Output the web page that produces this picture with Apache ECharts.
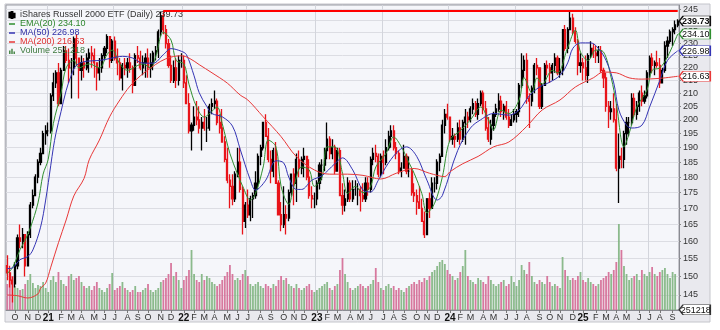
<!DOCTYPE html>
<html>
<head>
<meta charset="utf-8">
<script src="https://cdn.jsdelivr.net/npm/echarts@6/dist/echarts.min.js"></script>
<style>
  html, body { margin: 0; padding: 0; background: #ffffff; }
  #chart { width: 720px; height: 330px; }
</style>
</head>
<body>
<div id="chart"></div>
<script>
// Weekly bars for IWM, Sep 2020 - Sep 2025 (Friday of each week).
const firstWeek = [2020, 8, 11];
const firstOpen = 153;

const closes = [
  151,149,148,153,161,160,162,153,162,171,174,180,185,188,195,196,196,
  209,214,218,206,219,227,223,220,220,232,224,219,222,220,224,226,225,222,218,220,225,228,233,223,231,224,222,216,221,220,222,220,213,225,224,220,222,224,220,222,226,227,235,242,236,230,221,215,220,215,223,223,
  214,206,196,198,201,200,197,199,197,197,205,206,207,199,197,192,186,179,177,173,181,185,176,166,171,168,173,174,178,187,190,199,194,186,182,189,178,168,165,168,167,175,181,178,186,183,186,187,180,174,173,173,
  178,184,184,189,193,188,190,182,189,174,171,173,178,173,176,176,176,174,173,178,176,186,188,187,181,187,185,190,194,196,190,188,182,183,187,182,182,175,174,172,170,166,162,173,170,178,178,185,187,198,202,201,
  193,194,193,197,193,199,201,200,204,206,202,206,210,204,197,193,198,202,204,207,203,205,201,198,200,202,203,213,219,223,208,207,212,221,220,205,213,221,220,218,221,224,218,219,236,228,236,241,235,231,221,222,220,
  217,225,228,226,225,227,219,216,205,203,204,200,183,187,186,195,199,199,208,202,205,210,207,209,218,224,221,222,221,214,219,229,231,235,236,238,239.73
];

const highs = [
  156,153,150,154,162,165,164,162,163,172,176,181,186,190,196,198,199,
  210,218,219,222,220,229,229,228,224,233,234,224,225,224,226,228,229,228,222,224,226,229,234,233,232,233,228,224,222,224,224,226,221,226,229,227,225,226,228,226,227,229,236,244,244.46,238,232,225,223,224,225,226,
  225,217,210,199,205,207,205,201,204,201,206,208,211,208,202,204,194,190,181,181,182,190,190,177,172,176,174,175,182,188,191,199,202,197,189,190,192,179,172,177,171,176,181,183,188,189,187,190,187,186,177,175,
  179,185,186,190,199,194,193,191,190,190,178,176,180,179,179,179,178,177,178,180,180,187,190,191,188,188,189,193,196,198,198,192,189,185,191,188,187,183,178,176,177,173,169,173,175,180,180,186,188,200,204,206,
  201,197,195,199,200,200,204,203,205,208,207,208,211,211,207,201,200,203,206,210,209,206,207,204,202,204,204,214,226,225,226,210,213,222,224,220,214,222,223,222,222,226,225,224,236,238,237,243.7,243,237,232,226,224,
  225,226,231,230,229,229,229,220,218,207,207,210,206,195,190,196,201,201,210,210,207,211,213,211,219,225,226,223,227,224,220,231,233,236,237,240,240.5
];

const lows = [
  149,147,143,147,152,158,158,150,153,161,170,174,178,184,188,191,194,
  195,207,212,205,206,219,222,214,208,217,221,208,215,216,219,218,220,216,211,215,218,223,226,220,222,223,217,215,211,217,216,218,210,213,222,219,217,216,216,216,219,223,224,233,234,228,220,214,214,212,213,220,
  212,206,195,189,196,198,195,189,196,192,196,202,204,198,195,192,185,178,170,171,172,180,175,162,164,167,166,167,173,176,184,189,194,185,178,180,178,168,163,164,162,166,174,171,172,180,181,180,179,173,170,170,
  171,176,179,182,186,186,186,181,182,174,168,169,172,172,172,174,171,169,172,172,174,175,184,185,180,180,181,184,189,190,189,186,181,180,183,181,180,174,172,168,170,166,161,162,167,170,175,176,182,187,195,200,
  192,191,190,192,191,192,191,197,199,202,201,200,205,202,196,192,191,196,201,203,201,200,200,197,198,199,199,201,212,216,206,197,205,210,217,204,204,213,217,214,215,218,217,216,217,227,226,236,234,230,217,218,215,
  215,214,224,224,222,222,218,212,203,197,200,199,182,171.7,183,183,191,194,198,201,200,203,205,206,208,216,218,217,220,212,214,218,224,230,229,234,237
];

// Volume, millions of shares (last bar is the partial session)
const volumes = [
  26,30,34,24,22,20,21,26,30,36,27,22,25,24,28,22,18,
  30,34,28,38,30,26,24,34,36,30,32,34,28,24,
  22,24,20,24,28,22,20,18,22,26,37,20,22,24,28,
  22,20,18,20,24,18,18,20,22,26,20,18,20,22,28,
  30,32,36,47,34,38,30,22,
  30,34,40,60,36,30,28,36,30,34,32,28,26,24,26,30,34,38,45,36,30,32,
  30,36,40,34,26,24,26,28,24,22,26,24,22,26,24,30,34,30,32,26,24,22,26,22,20,22,24,26,20,18,
  20,22,24,26,28,22,20,24,26,40,52,36,28,22,20,22,24,26,24,22,
  24,26,30,42,28,22,20,24,26,22,24,20,22,20,18,22,24,26,28,26,30,28,32,30,34,38,40,44,48,50,46,40,
  36,34,30,32,38,44,60,34,30,28,26,32,30,28,26,34,30,26,24,26,28,30,24,26,34,28,24,30,
  45,40,36,48,34,28,26,30,28,26,34,28,24,26,24,22,53,40,34,30,32,30,34,38,
  30,28,32,28,26,24,26,30,32,34,38,36,40,48,86,60,44,36,30,32,34,36,30,40,36,34,38,43,36,34,38,40,42,36,32,38,36,0.251218
];

// Indicator readings: [week index, value]
const ema20 = [
  [0,150.9],[2,152.4],[5,157.6],[7,160.4],[9,164],[12,171.7],[14,181],[16,186],[18,198.6],[21,210],[23,220],[26,223],[28,220],
  [32,221.6],[36,220],[39,225.4],[41,227.3],[44,221.6],[47,219],[51,221],[53,221.6],[56,220],[58,224.5],[61,234.8],[64,231.5],
  [66,223],[69,221.6],[71,213.5],[74,204.7],[77,201],[79,202.3],[82,204.7],[84,198.6],[87,188],[90,181],[92,177],[95,172.6],
  [97,174.7],[100,183.4],[102,192.7],[105,190.3],[107,177],[110,171.3],[112,177],[115,183.4],[118,182.4],[120,177],[123,180],
  [125,190.3],[128,190.3],[131,181.3],[133,174.7],[136,177],[139,175],[142,177],[144,183.4],[148,188],[151,193.8],[154,190.3],
  [157,184.8],[159,181.3],[162,174.7],[164,168.6],[167,171.6],[170,180],[173,192.7],[177,196],[181,200],[185,204.7],[188,200],
  [190,196.3],[193,203.6],[196,202.3],[200,207.4],[202,216],[205,210],[207,216],[209,213.5],[213,219],[215,218],[219,228.3],
  [222,235.8],[224,226.5],[227,223],[230,227.3],[233,226.5],[236,216],[238,206],[241,190.3],[243,195],[246,204.7],[250,211.2],
  [252,219],[255,220],[258,224.5],[262,234.10]
];
const ma50 = [
  [0,152.2],[2,152.4],[5,154.7],[8,155.6],[10,157.5],[13,164.2],[15,172.6],[17,184],[18,190],[19,195],[21,203],[23,211],[25,217],
  [27,221],[31,222.7],[36,223],[41,224],[45,224.7],[49,224],[53,221.9],[57,221.9],[61,225.4],[64,227.9],[68,226.8],[70,225.4],
  [73,216.8],[75,210.2],[78,204.9],[80,202.3],[84,201.1],[88,197.7],[91,189.5],[95,179],[97,175.8],[101,179],[105,185.5],
  [108,184.8],[110,180],[113,176],[115,176],[119,179],[123,180.5],[128,184.5],[131,186.5],[135,182.4],[139,175.8],[142,175.2],
  [145,179],[149,184.8],[153,189],[156,190.3],[160,187],[164,179],[168,172.6],[170,174],[176,189],[181,197],[185,200],
  [190,202.3],[196,201.7],[200,203.6],[204,209],[208,212.4],[212,214.3],[216,217],[219,222],[221,228],[224,230.3],[228,230.3],
  [231,228],[234,223],[237,214],[239,203.6],[242,198],[244,197],[248,198],[251,204.7],[255,215],[258,223],[262,226.98]
];
const ma200 = [
  [0,145],[4,144.8],[8,144.2],[12,145.3],[13,146.8],[15,148.2],[17,152.6],[20,159.6],[23,166.4],[26,173.9],[30,179.6],
  [32,185.8],[36,192.7],[40,201.1],[44,207.4],[48,212.8],[52,216.8],[56,219.9],[60,222.7],[64,224.4],[68,224.9],[71,224],
  [75,221.3],[80,218],[86,213.9],[91,209.3],[94,207.4],[100,201.1],[107,193.9],[113,186.9],[120,182.4],[126,181],[133,181],
  [139,180.6],[146,179.4],[152,181.3],[159,182.9],[165,181.3],[171,180.2],[173,181.8],[178,184.5],[184,187],[190,190.3],
  [196,192],[203,197.6],[209,203.6],[216,207.4],[222,212.4],[229,216],[233,218.3],[238,218],[243,216],[248,215.5],
  [255,215.8],[262,216.63]
];

const priceTicks = [145,150,155,160,165,170,175,180,185,190,195,200,205,210,215,220,225,230,235,240,245];
const monthInitials = ['J','F','M','A','M','J','J','A','S','O','N','D'];

const priceName = 'iShares Russell 2000 ETF (Daily)';
const lastPrice = 239.73, lastEma = 234.10, lastMa50 = 226.98, lastMa200 = 216.63, lastVolume = 251218;
const resistanceWeek = 61, resistanceLevel = 244.46;

// ---- build ----
const weeks = closes.map((_, i) => {
  const d = new Date(Date.UTC(firstWeek[0], firstWeek[1], firstWeek[2] + 7 * i));
  return d.toISOString().slice(0, 10);
});
const last = weeks.length - 1;
const opens = closes.map((c, i) => (i ? closes[i - 1] : firstOpen));
const ohlc = closes.map((c, i) => [opens[i], c, lows[i], highs[i]]);
const toCat = arr => arr.map(p => [weeks[p[0]], p[1]]);

const monthOf = i => +weeks[i].slice(5, 7) - 1;
const isMonthStart = i => i > 0 && monthOf(i) !== monthOf(i - 1);
const isHalfYear = i => isMonthStart(i) && (monthOf(i) === 0 || monthOf(i) === 6);

const FONT = "'Liberation Sans', Arial, sans-serif";
const UP = '#000000', DOWN = '#e8141a';
const GREEN = '#2f8f2f', BLUE = '#3434b4', RED = '#e83838';

const TAG = 'path://M0,5 L4,0 L32,0 L32,10 L4,10 Z';
function tag(coordValue, border, text, bold) {
  return {
    coord: [weeks[last], coordValue],
    symbol: TAG, symbolSize: [31, 10], symbolOffset: [17, 0], symbolKeepAspect: false,
    itemStyle: { color: '#ffffff', borderColor: border, borderWidth: 1 },
    label: {
      show: true, position: 'inside', formatter: text, color: '#111',
      fontSize: 9, fontFamily: FONT, fontWeight: bold ? 'bold' : 'normal', offset: [1, 0.5]
    }
  };
}

const volumeData = volumes.map((v, i) => ({
  value: v,
  itemStyle: { color: closes[i] >= opens[i] ? 'rgba(128,180,128,0.9)' : 'rgba(212,106,148,0.9)' }
}));

const legendValues = {};
legendValues[priceName] = lastPrice.toFixed(2);
legendValues['EMA(20)'] = lastEma.toFixed(2);
legendValues['MA(50)'] = lastMa50.toFixed(2);
legendValues['MA(200)'] = lastMa200.toFixed(2);
legendValues['Volume'] = lastVolume.toLocaleString('en-US');

const ICON_BARS = 'path://M0,0h0v0z M0.5,1h1v5h-1z M3,0h1v7h-1z M5.5,2h1v4h-1z M7,7h0v0z';
const ICON_LINE = 'path://M0,0h0v0z M0,2.6h7v1.8h-7z M7,7h0v0z';
const ICON_VOL = 'path://M0,0h0v0z M0,3h1.8v4h-1.8z M2.6,1h1.8v6h-1.8z M5.2,4h1.8v3h-1.8z M7,7h0v0z';

const chart = echarts.init(document.getElementById('chart'), null, { renderer: 'canvas' });
chart.setOption({
  animation: false,
  backgroundColor: '#ffffff',
  textStyle: { fontFamily: FONT },
  graphic: [{
    type: 'rect', z: -100, silent: true,
    shape: { x: 5, y: 4, width: 705, height: 318 },
    style: { fill: '#e9e9ee', stroke: '#c4c5cb', lineWidth: 1 }
  }],
  grid: {
    left: 6, right: 41, top: 5, bottom: 20,
    containLabel: false, outerBoundsMode: 'none',
    show: true, backgroundColor: '#f5f6fa', borderColor: '#9a9ba2', borderWidth: 1
  },
  legend: {
    left: 3, top: 5.5, orient: 'vertical', itemGap: 0, itemWidth: 6, itemHeight: 7,
    selectedMode: false,
    textStyle: { fontSize: 9, lineHeight: 8.3, fontFamily: FONT },
    formatter: name => name + ' ' + legendValues[name],
    data: [
      { name: priceName, icon: ICON_BARS, itemStyle: { color: '#555' }, textStyle: { color: '#333' } },
      { name: 'EMA(20)', icon: ICON_LINE, itemStyle: { color: GREEN }, textStyle: { color: '#2d862d' } },
      { name: 'MA(50)', icon: ICON_LINE, itemStyle: { color: BLUE }, textStyle: { color: '#2f2fa6' } },
      { name: 'MA(200)', icon: ICON_LINE, itemStyle: { color: RED }, textStyle: { color: '#e03030' } },
      { name: 'Volume', icon: ICON_VOL, itemStyle: { color: '#4d8a4d' }, textStyle: { color: '#3f7a3f' } }
    ]
  },
  xAxis: {
    type: 'category', data: weeks, boundaryGap: true,
    axisLine: { show: true, lineStyle: { color: '#8a8b92' } },
    axisTick: { show: true, interval: isMonthStart, alignWithLabel: true, length: 3, lineStyle: { color: '#777' } },
    axisLabel: {
      interval: isMonthStart, margin: 3, fontSize: 9, color: '#333', fontFamily: FONT,
      formatter: v => {
        const m = +v.slice(5, 7);
        return m === 1 ? '{y|' + v.slice(2, 4) + '}' : monthInitials[m - 1];
      },
      rich: { y: { fontWeight: 'bold', fontSize: 10, color: '#111', fontFamily: FONT } }
    },
    splitLine: { show: true, interval: isHalfYear, lineStyle: { color: '#d3d5dc', width: 1 } }
  },
  yAxis: [{
    type: 'log', logBase: 10, position: 'right', min: 141.06, max: 246.9,
    axisLine: { show: true, lineStyle: { color: '#8a8b92' } },
    axisTick: { show: true, customValues: priceTicks, length: 2, lineStyle: { color: '#888' } },
    axisLabel: { customValues: priceTicks, color: '#333', fontSize: 9, margin: 4, fontFamily: FONT },
    splitLine: { show: true, lineStyle: { color: '#dcdde3', width: 1 } }
  }, {
    type: 'value', position: 'left', min: 0, max: 305, show: false,
    splitLine: { show: false }
  }],
  series: [
    {
      name: 'Volume', type: 'bar', xAxisIndex: 0, yAxisIndex: 1, data: volumeData,
      barWidth: 1.8, z: 1, silent: true,
      itemStyle: { color: '#4d8a4d' },
      markPoint: { silent: true, data: [tag(lastVolume / 1e6, '#333', String(lastVolume), false)] }
    },
    {
      name: priceName, type: 'candlestick', yAxisIndex: 0, data: ohlc,
      barWidth: 1.6, z: 3, silent: true,
      itemStyle: { color: UP, color0: DOWN, borderColor: UP, borderColor0: DOWN, borderWidth: 1.3 },
      markLine: {
        silent: true, symbol: ['none', 'none'], label: { show: false },
        lineStyle: { color: '#ff0000', width: 2, type: 'solid' },
        data: [[{ coord: [weeks[resistanceWeek], resistanceLevel] }, { coord: [weeks[last], resistanceLevel] }]]
      },
      markPoint: { silent: true, z: 10, data: [tag(lastPrice, '#111', lastPrice.toFixed(2), true)] }
    },
    {
      name: 'EMA(20)', type: 'line', yAxisIndex: 0, data: toCat(ema20), smooth: 0.35,
      showSymbol: false, z: 4, silent: true, connectNulls: true,
      lineStyle: { color: GREEN, width: 1 }, itemStyle: { color: GREEN },
      markPoint: { silent: true, data: [tag(lastEma, GREEN, lastEma.toFixed(2), false)] }
    },
    {
      name: 'MA(50)', type: 'line', yAxisIndex: 0, data: toCat(ma50), smooth: 0.35,
      showSymbol: false, z: 4, silent: true,
      lineStyle: { color: BLUE, width: 1 }, itemStyle: { color: BLUE },
      markPoint: { silent: true, data: [tag(lastMa50, BLUE, lastMa50.toFixed(2), false)] }
    },
    {
      name: 'MA(200)', type: 'line', yAxisIndex: 0, data: toCat(ma200), smooth: 0.35,
      showSymbol: false, z: 4, silent: true,
      lineStyle: { color: RED, width: 1 }, itemStyle: { color: RED },
      markPoint: { silent: true, data: [tag(lastMa200, RED, lastMa200.toFixed(2), false)] }
    }
  ]
});
</script>
</body>
</html>
